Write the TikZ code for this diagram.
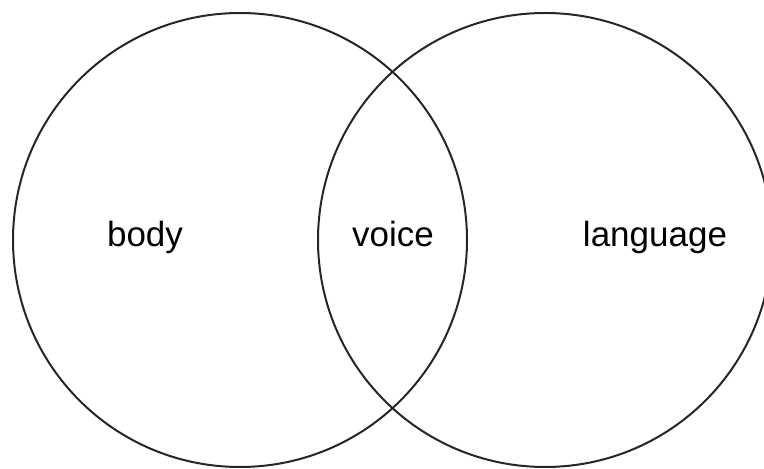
\documentclass[tikz,border=0pt]{standalone}
\usepackage{fontspec}
\setmainfont{Liberation Sans}
\begin{document}
\begin{tikzpicture}[
 x=0.5pt,y=-0.5pt,font=\fontsize{17.5}{21}\selectfont,
 ring/.style={draw=black!85,line width=1pt,circle,minimum size=227pt,inner sep=0pt},
 word/.style={anchor=base,inner sep=0pt}]
\path[use as bounding box] (0,0) rectangle (764,469);

\node[ring] (bodyring) at (240,240) {};
\node[ring] (langring) at (545,240) {};

\node[word] (body) at (145,247) {body};
\node[word] (voice) at (393,247) {voice};
\node[word] (language) at (655,247) {language};
\end{tikzpicture}
\end{document}
